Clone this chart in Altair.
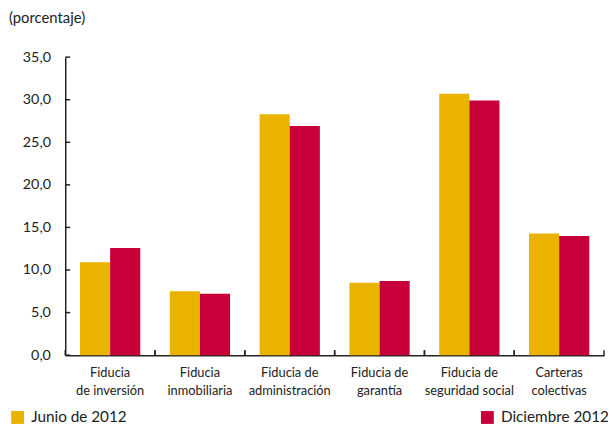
import altair as alt
import pandas as pd

categories = ["Fiducia|de inversión", "Fiducia|inmobiliaria", "Fiducia de|administración",
              "Fiducia de|garantía", "Fiducia de|seguridad social", "Carteras|colectivas"]
series = ["Junio de 2012", "Diciembre 2012"]
junio = [10.9, 7.5, 28.3, 8.5, 30.7, 14.3]
diciembre = [12.6, 7.2, 26.9, 8.7, 29.9, 14.0]
colors = ["#EAB300", "#C8003A"]
y_ticks = [0, 5, 10, 15, 20, 25, 30, 35]

rows = []
for c, j, d in zip(categories, junio, diciembre):
    rows.append({"cat": c, "serie": series[0], "valor": j})
    rows.append({"cat": c, "serie": series[1], "valor": d})
df = pd.DataFrame(rows)
df_yt = pd.DataFrame({"valor": y_ticks})
df_xt = pd.DataFrame({"cat": categories})

FONT = "Lato"
AX = "#222"
W, H = 546, 302

x_scale = alt.Scale(paddingInner=0, paddingOuter=0)
y_scale = alt.Scale(domain=[0, 35], nice=False)

x_axis = alt.Axis(labelAngle=0, labelExpr="split(datum.label, '|')",
                  ticks=False, domainColor=AX, title=None,
                  domainWidth=1.5, labelFontSize=13, labelColor=AX,
                  labelPadding=12, labelLineHeight=18, labelFont=FONT)
y_axis = alt.Axis(values=y_ticks, title=None,
                  labelExpr="replace(format(datum.value, '.1f'), '.', ',')",
                  grid=False, ticks=False, domainColor=AX,
                  domainWidth=1.5, labelFontSize=14.5, labelColor=AX,
                  labelPadding=15, labelFont=FONT)

bars = alt.Chart(df).mark_bar().encode(
    x=alt.X("cat:N", sort=categories, title=None, scale=x_scale, axis=x_axis),
    xOffset=alt.XOffset("serie:N", sort=series,
                        scale=alt.Scale(paddingInner=0, paddingOuter=0.49)),
    y=alt.Y("valor:Q", title=None, scale=y_scale, axis=y_axis),
    color=alt.Color("serie:N", sort=series,
                    scale=alt.Scale(domain=series, range=colors),
                    legend=alt.Legend(title=None, orient="none", legendX=-56, legendY=357,
                                      direction="horizontal", symbolType="square",
                                      symbolSize=170, symbolStrokeWidth=0, symbolOpacity=1,
                                      labelFontSize=15.5, labelFont=FONT, labelColor=AX,
                                      columnPadding=357, labelOffset=6)),
)

ytick_marks = alt.Chart(df_yt).mark_rule(color=AX, strokeWidth=1.5).encode(
    y=alt.Y("valor:Q", title=None, scale=y_scale, axis=y_axis),
    x=alt.value(0), x2=alt.value(5),
)

xtick_left = alt.Chart(df_xt).mark_rule(color=AX, strokeWidth=1.5).encode(
    x=alt.X("cat:N", sort=categories, title=None, bandPosition=0, scale=x_scale, axis=x_axis),
    y=alt.value(H), y2=alt.value(H - 5),
)
xtick_right = alt.Chart(df_xt).mark_rule(color=AX, strokeWidth=1.5).encode(
    x=alt.X("cat:N", sort=categories, title=None, bandPosition=1, scale=x_scale, axis=x_axis),
    y=alt.value(H), y2=alt.value(H - 5),
)

chart = alt.layer(bars, ytick_marks, xtick_left, xtick_right).properties(
    width=W, height=H,
    title=alt.TitleParams("(porcentaje)", anchor="start", frame="group",
                          fontSize=15, font=FONT, fontWeight="normal", color=AX,
                          dx=-57, offset=24),
    autosize=alt.AutoSizeParams(type="none"),
    padding={"left": 58, "top": 47, "right": 4, "bottom": 72},
).configure_view(stroke=None)

chart.save("out.html", embed_options={"renderer": "svg", "actions": False})
